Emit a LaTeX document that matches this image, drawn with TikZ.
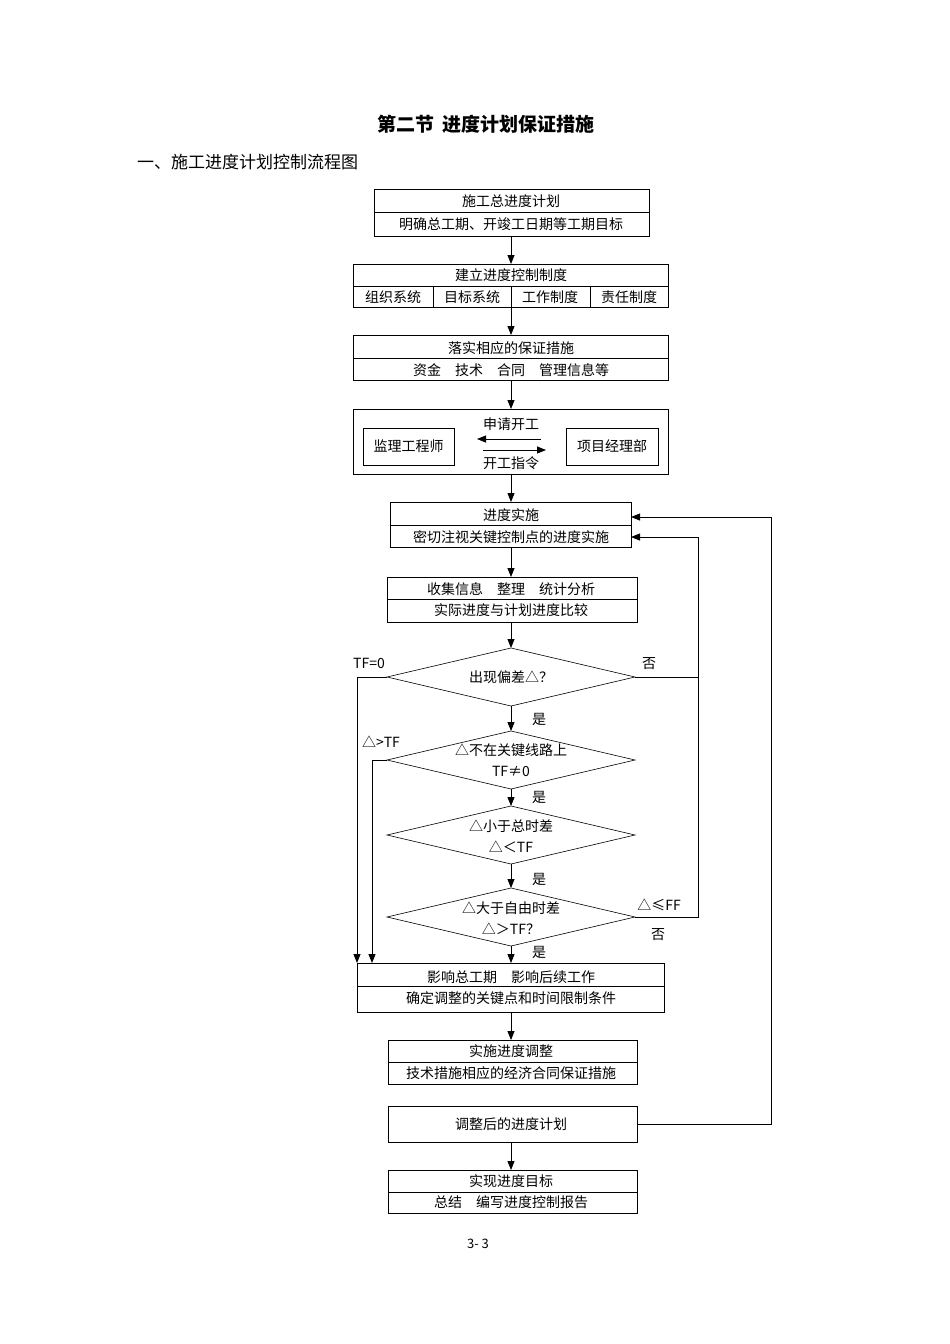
\documentclass[tikz,border=0pt]{standalone}
\usepackage{fontspec}
\setmainfont{Noto Sans CJK SC}
\usetikzlibrary{arrows.meta}
\begin{document}
\begin{tikzpicture}[x=1pt,y=-1pt,
  every node/.style={font=\fontsize{14}{16}\selectfont,inner sep=0pt},
  bx/.style={draw,line width=0.8pt},
  ln/.style={line width=0.8pt},
  ar/.style={line width=0.8pt,-{Triangle[length=9pt,width=7pt]}},
  dm/.style={draw,line width=0.6pt}]
\useasboundingbox (0,0) rectangle (950,1344);
\node (title) at (486,124) {\fontsize{19}{21}\selectfont\bfseries 第二节\ \ 进度计划保证措施};
\node[anchor=west] (sub) at (137,162) {\fontsize{17}{19}\selectfont 一、施工进度计划控制流程图};
% box1
\draw[bx] (374,189) rectangle (649,236); \draw[ln] (374,212)--(649,212);
\node (b1) at (511,212) {}; \coordinate (b1b) at (511,236);
\node at (511,201) {施工总进度计划};
\node at (511,224) {明确总工期、开竣工日期等工期目标};
% box2
\draw[bx] (353,264) rectangle (668,307); \draw[ln] (353,286)--(668,286);
\foreach \x in {433,511,590} \draw[ln] (\x,286)--(\x,307);
\coordinate (b2t) at (511,264); \coordinate (b2b) at (511,307);
\node at (511,275) {建立进度控制制度};
\node at (393,297) {组织系统}; \node at (472,297) {目标系统};
\node at (550,297) {工作制度}; \node at (629,297) {责任制度};
% box3
\draw[bx] (353,335) rectangle (668,380); \draw[ln] (353,358)--(668,358);
\coordinate (b3t) at (511,335); \coordinate (b3b) at (511,380);
\node at (511,348) {落实相应的保证措施};
\node at (511,370) {资金\quad 技术\quad 合同\quad 管理信息等};
% box4
\draw[bx] (353,409) rectangle (668,474);
\coordinate (b4t) at (511,409); \coordinate (b4b) at (511,474);
\node[bx,minimum width=91pt,minimum height=37pt] (jl) at (408.5,446.5) {监理工程师};
\node[bx,minimum width=92pt,minimum height=37pt] (xm) at (612,446.5) {项目经理部};
\node at (511,424) {申请开工};
\node at (511,463) {开工指令};
\coordinate (la1) at (541,439); \coordinate (la2) at (477,439);
\coordinate (ra1) at (483,450); \coordinate (ra2) at (546,450);
\draw[ar] (la1)--(la2); \draw[ar] (ra1)--(ra2);
% box5
\draw[bx] (390,502) rectangle (631,547); \draw[ln] (390,525)--(631,525);
\coordinate (b5t) at (511,502); \coordinate (b5b) at (511,547);
\coordinate (b5r1) at (631,517); \coordinate (b5r2) at (631,537);
\node at (511,515) {进度实施};
\node at (511,537) {密切注视关键控制点的进度实施};
% box6
\draw[bx] (387,577) rectangle (637,622); \draw[ln] (387,599)--(637,599);
\coordinate (b6t) at (511,577); \coordinate (b6b) at (511,622);
\node at (511,589) {收集信息\quad 整理\quad 统计分析};
\node at (511,610) {实际进度与计划进度比较};
% diamonds
\foreach \n/\y in {d1/677,d2/760,d3/835,d4/917}{
  \draw[dm] (387,\y)--(511,\y-29)--(635,\y)--(511,\y+29)--cycle;
  \coordinate (\n t) at (511,\y-29); \coordinate (\n b) at (511,\y+29);
  \coordinate (\n l) at (387,\y); \coordinate (\n r) at (635,\y);
}
\node at (511,677) {出现偏差△？};
\node at (511,750) {△不在关键线路上};
\node at (511,771) {TF≠0};
\node at (511,826) {△小于总时差};
\node at (511,847) {△＜TF};
\node at (511,908) {△大于自由时差};
\node at (511,929) {△＞TF？};
% box7
\draw[bx] (357,963) rectangle (664,1012); \draw[ln] (357,986)--(664,986);
\coordinate (b7t) at (511,963); \coordinate (b7b) at (511,1012);
\node at (511,977) {影响总工期\quad 影响后续工作};
\node at (511,998) {确定调整的关键点和时间限制条件};
% box8
\draw[bx] (388,1040) rectangle (637,1084); \draw[ln] (388,1062)--(637,1062);
\coordinate (b8t) at (511,1040);
\node at (511,1051) {实施进度调整};
\node at (511,1073) {技术措施相应的经济合同保证措施};
% box9
\draw[bx] (388,1106) rectangle (637,1142);
\coordinate (b9r) at (637,1124); \coordinate (b9b) at (511,1142);
\node at (511,1124) {调整后的进度计划};
% box10
\draw[bx] (388,1170) rectangle (637,1213); \draw[ln] (388,1192)--(637,1192);
\coordinate (b10t) at (511,1170);
\node at (511,1181) {实现进度目标};
\node at (511,1202) {总结\quad 编写进度控制报告};
\node at (478,1244) {\fontsize{13}{15}\selectfont 3- 3};
% arrows
\draw[ar] (b1b)--(b2t); \draw[ar] (b2b)--(b3t); \draw[ar] (b3b)--(b4t);
\draw[ar] (b4b)--(b5t); \draw[ar] (b5b)--(b6t); \draw[ar] (b6b)--(d1t);
\draw[ar] (d1b)--(d2t); \draw[ar] (d2b)--(d3t); \draw[ar] (d3b)--(d4t);
\draw[ar] (d4b)--(b7t); \draw[ar] (b7b)--(b8t); \draw[ar] (b9b)--(b10t);
\draw[ar] (d1l)--(357,677)--(357,963);
\draw[ar] (d2l)--(372,760)--(372,963);
\draw[ar] (d1r)--(698,677)|-(b5r2);
\draw[ln] (d4r)--(698,917)--(698,677);
\draw[ar] (b9r)--(771,1124)|-(b5r1);
% labels
\node at (369,663) {TF=0};
\node at (649,664) {否};
\node at (539,719) {是}; \node at (539,797) {是};
\node at (539,879) {是}; \node at (539,952) {是};
\node at (381,742) {△>TF};
\node at (659,905) {△≤FF};
\node at (658,935) {否};
\end{tikzpicture}
\end{document}
